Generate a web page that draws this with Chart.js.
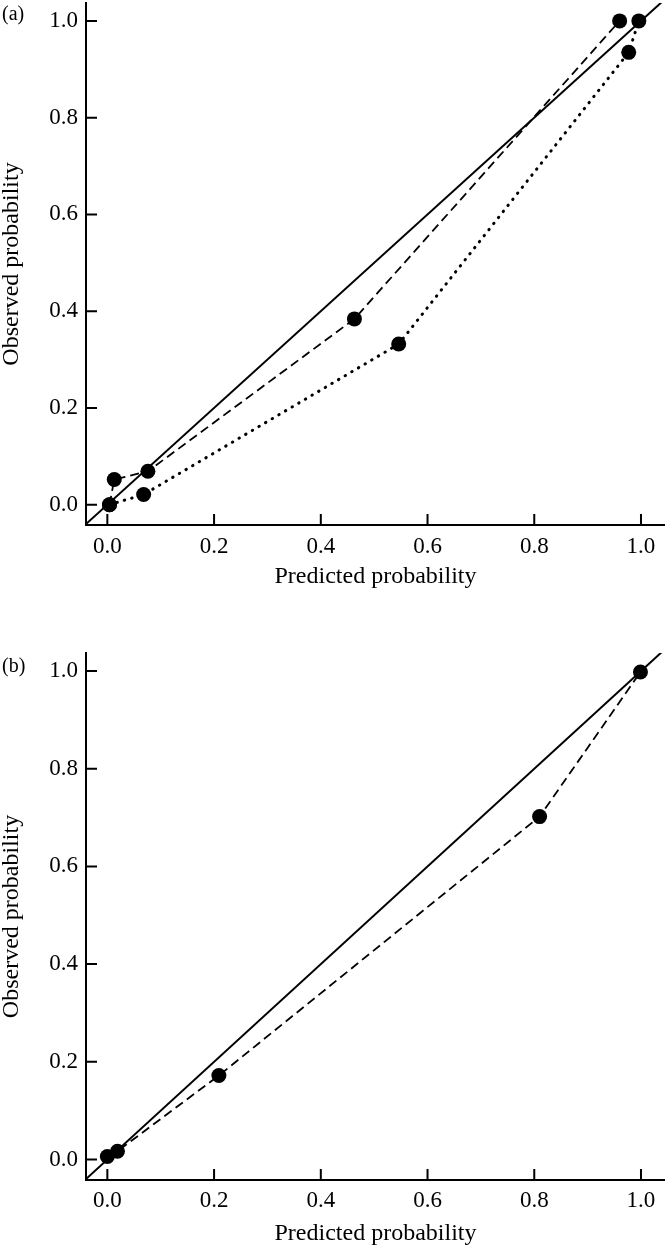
<!DOCTYPE html>
<html>
<head>
<meta charset="utf-8">
<script src="https://cdn.jsdelivr.net/npm/chart.js@4.4.1/dist/chart.umd.min.js"></script>
<style>
  html, body { margin: 0; padding: 0; background: #fff; }
  #wrap { position: relative; width: 665px; height: 1249px; }
  canvas { position: absolute; left: 0; }
  #chartA { top: 0; }
  #chartB { top: 600px; }
</style>
</head>
<body>
<div id="wrap">
  <canvas id="chartA" width="665" height="600"></canvas>
  <canvas id="chartB" width="665" height="649"></canvas>
</div>
<script>
const tickValues = [0, 0.2, 0.4, 0.6, 0.8, 1.0];
const tickLabels = ['0.0', '0.2', '0.4', '0.6', '0.8', '1.0'];
const xTitle = 'Predicted probability';
const yTitle = 'Observed probability';
const refLine = [-0.04, 1.04];

// panel (a)
const aDashedPred = [0.004, 0.013, 0.076, 0.463, 0.960];
const aDashedObs = [0.0, 0.052, 0.069, 0.384, 1.0];
const aDottedPred = [0.004, 0.068, 0.546, 0.977, 0.996];
const aDottedObs = [0.0, 0.021, 0.332, 0.935, 1.0];

// panel (b)
const bDashedPred = [0.0, 0.019, 0.209, 0.810, 0.999];
const bDashedObs = [0.006, 0.017, 0.172, 0.702, 0.998];

Chart.defaults.font.family = "'Liberation Serif', 'Times New Roman', serif";
Chart.defaults.font.size = 23;
Chart.defaults.color = '#000';

const toPoints = (xs, ys) => xs.map((x, i) => ({ x, y: ys[i] }));

// tick marks pointing into the plot, plus the panel letter
const innerTicks = {
  id: 'innerTicks',
  beforeDatasetsDraw(chart) {
    const { ctx, chartArea, scales } = chart;
    ctx.save();
    ctx.strokeStyle = '#000';
    ctx.lineWidth = 2;
    ctx.beginPath();
    tickValues.forEach((v) => {
      const px = scales.x.getPixelForValue(v);
      ctx.moveTo(px, chartArea.bottom);
      ctx.lineTo(px, chartArea.bottom - 11);
      const py = scales.y.getPixelForValue(v);
      ctx.moveTo(chartArea.left, py);
      ctx.lineTo(chartArea.left + 11, py);
    });
    ctx.stroke();
    const lbl = chart.options.plugins.innerTicks;
    ctx.fillStyle = '#000';
    ctx.font = "20px 'Liberation Serif', serif";
    ctx.textBaseline = 'middle';
    ctx.textAlign = 'left';
    ctx.fillText(lbl.panel, 2, lbl.panelY);
    ctx.restore();
  }
};

function lineSet(xs, ys, dash, width, cap) {
  return {
    data: toPoints(xs, ys),
    showLine: true,
    borderColor: '#000',
    backgroundColor: '#000',
    borderWidth: width,
    borderDash: dash,
    borderCapStyle: cap,
    pointRadius: 7.5,
    pointBorderWidth: 0,
    pointBackgroundColor: '#000'
  };
}

function diagonal() {
  return {
    data: toPoints(refLine, refLine),
    showLine: true,
    borderColor: '#000',
    borderWidth: 2,
    pointRadius: 0
  };
}

function makeOptions(cfg) {
  return {
    responsive: false,
    animation: false,
    layout: { autoPadding: false, padding: { top: cfg.padTop, left: 0, right: 0, bottom: 0 } },
    plugins: {
      legend: { display: false },
      tooltip: { enabled: false },
      innerTicks: { panel: cfg.panel, panelY: cfg.panelY }
    },
    scales: {
      x: {
        type: 'linear',
        min: -0.04,
        max: 1.045,
        afterBuildTicks: (s) => { s.ticks = tickValues.map((v) => ({ value: v })); },
        afterFit: (s) => { s.height = cfg.xHeight; s.paddingLeft = 0; s.paddingRight = 0; },
        grid: { display: true, drawOnChartArea: false, drawTicks: false },
        border: { display: true, color: '#000', width: 2 },
        ticks: {
          padding: cfg.xTickPad,
          maxRotation: 0,
          callback: (v, i) => tickLabels[i]
        },
        title: {
          display: true,
          text: xTitle,
          font: { size: 24, lineHeight: 1 },
          padding: { top: 0, bottom: cfg.xTitlePad }
        }
      },
      y: {
        type: 'linear',
        min: -0.042,
        max: 1.037,
        afterBuildTicks: (s) => { s.ticks = tickValues.map((v) => ({ value: v })); },
        afterFit: (s) => { s.width = 86; s.paddingTop = 0; s.paddingBottom = 0; },
        grid: { display: true, drawOnChartArea: false, drawTicks: false },
        border: { display: true, color: '#000', width: 2 },
        ticks: {
          padding: 8,
          callback: (v, i) => tickLabels[i]
        },
        title: {
          display: true,
          text: yTitle,
          font: { size: 24, lineHeight: 1 },
          padding: { top: 0, bottom: 0 }
        }
      }
    }
  };
}

new Chart(document.getElementById('chartA'), {
  type: 'scatter',
  data: {
    datasets: [
      lineSet(aDashedPred, aDashedObs, [9, 5], 1.8, 'butt'),
      lineSet(aDottedPred, aDottedObs, [0.5, 7.2], 3, 'round'),
      diagonal()
    ]
  },
  options: makeOptions({ padTop: 3, xHeight: 75, xTickPad: 8, xTitlePad: 11, panel: '(a)', panelY: 15 }),
  plugins: [innerTicks]
});

new Chart(document.getElementById('chartB'), {
  type: 'scatter',
  data: {
    datasets: [
      lineSet(bDashedPred, bDashedObs, [9, 5], 1.8, 'butt'),
      diagonal()
    ]
  },
  options: makeOptions({ padTop: 53, xHeight: 69, xTickPad: 7, xTitlePad: 3, panel: '(b)', panelY: 67 }),
  plugins: [innerTicks]
});
</script>
</body>
</html>
